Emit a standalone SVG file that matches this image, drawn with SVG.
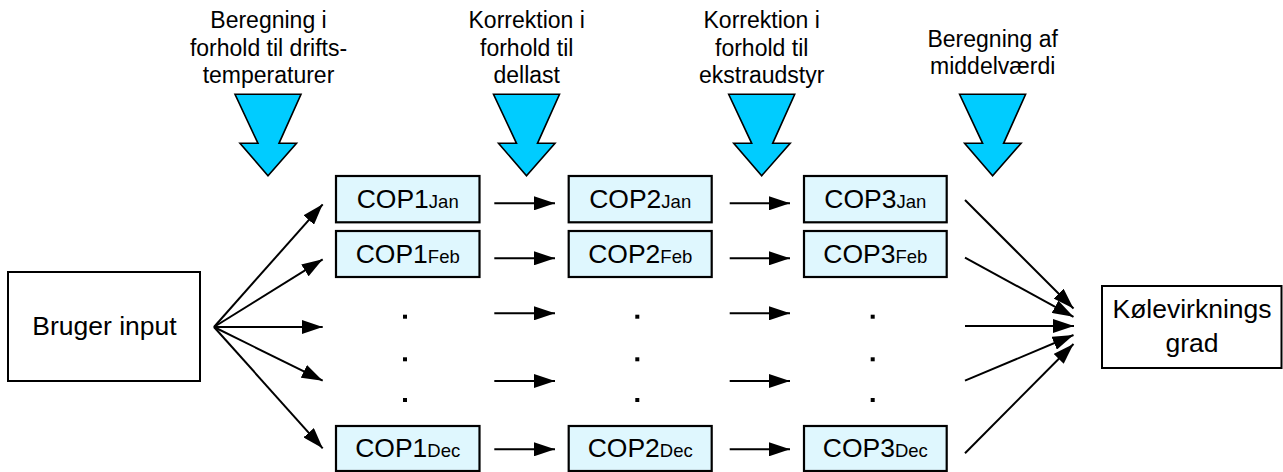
<svg xmlns="http://www.w3.org/2000/svg" width="1283" height="472" viewBox="0 0 1283 472">
<defs>
<style>
text{font-family:"Liberation Sans",Arial,sans-serif;fill:#000}
.lbl{font-size:23px;text-anchor:middle}
.main{font-size:26.5px;text-anchor:middle}
.sub{font-size:18.5px}
.box{fill:#fff;stroke:#000;stroke-width:2}
.cop{fill:#dff7fe;stroke:#000;stroke-width:2.2}
.blk{fill:#00ccff;stroke:#000;stroke-width:1.6;stroke-linejoin:miter}
.con line{stroke:#000;stroke-width:2;marker-end:url(#ah)}
.dot{fill:#000}
</style>
<marker id="ah" markerUnits="userSpaceOnUse" markerWidth="22" markerHeight="14" refX="21" refY="7" orient="auto" viewBox="0 0 22 14">
<path d="M0,0 L21,7 L0,14 z" fill="#000"/>
</marker>
<polygon id="bigarrow" class="blk" points="-33,94.3 33,94.3 11,143.3 28.5,143.3 0,175.7 -28,143.3 -10,143.3"/>
</defs>
<rect width="1283" height="472" fill="#fff"/>

<g id="label1">
<text class="lbl" x="268.5" y="28.3">Beregning i</text>
<text class="lbl" x="268.5" y="56">forhold til drifts-</text>
<text class="lbl" x="268.5" y="83.3">temperaturer</text>
<use href="#bigarrow" x="268"/>
</g>
<g id="label2">
<text class="lbl" x="526.7" y="28.3">Korrektion i</text>
<text class="lbl" x="526.7" y="56">forhold til</text>
<text class="lbl" x="526.7" y="83.3">dellast</text>
<use href="#bigarrow" x="526.5"/>
</g>
<g id="label3">
<text class="lbl" x="761.7" y="28.3">Korrektion i</text>
<text class="lbl" x="761.7" y="56">forhold til</text>
<text class="lbl" x="761.7" y="83.3">ekstraudstyr</text>
<use href="#bigarrow" x="761.7"/>
</g>
<g id="label4">
<text class="lbl" x="992.7" y="46.7">Beregning af</text>
<text class="lbl" x="992.7" y="74">middelværdi</text>
<use href="#bigarrow" x="992.6"/>
</g>

<g id="bruger">
<rect class="box" x="8" y="272" width="192" height="109"/>
<text class="main" x="104.5" y="335">Bruger input</text>
</g>
<g id="kolevirkning">
<rect class="box" x="1102" y="286" width="179.5" height="82"/>
<text class="main" x="1192" y="318.3">Kølevirknings</text>
<text class="main" x="1192" y="351.7">grad</text>
</g>

<g id="cop1jan"><rect class="cop" x="336" y="176" width="143.5" height="46.3"/><text class="main" x="407.7" y="208.3">COP1<tspan class="sub">Jan</tspan></text></g>
<g id="cop1feb"><rect class="cop" x="336" y="231" width="143.5" height="46"/><text class="main" x="407.7" y="263.3">COP1<tspan class="sub">Feb</tspan></text></g>
<g id="cop1dec"><rect class="cop" x="336" y="426" width="143.5" height="45"/><text class="main" x="407.7" y="457">COP1<tspan class="sub">Dec</tspan></text></g>

<g id="cop2jan"><rect class="cop" x="568.7" y="176" width="143" height="46.3"/><text class="main" x="640.2" y="208.3">COP2<tspan class="sub">Jan</tspan></text></g>
<g id="cop2feb"><rect class="cop" x="568.7" y="231" width="143" height="46"/><text class="main" x="640.2" y="263.3">COP2<tspan class="sub">Feb</tspan></text></g>
<g id="cop2dec"><rect class="cop" x="568.7" y="426" width="143" height="45"/><text class="main" x="640.2" y="457">COP2<tspan class="sub">Dec</tspan></text></g>

<g id="cop3jan"><rect class="cop" x="804" y="176" width="142.7" height="46.3"/><text class="main" x="875.3" y="208.3">COP3<tspan class="sub">Jan</tspan></text></g>
<g id="cop3feb"><rect class="cop" x="804" y="231" width="142.7" height="46"/><text class="main" x="875.3" y="263.3">COP3<tspan class="sub">Feb</tspan></text></g>
<g id="cop3dec"><rect class="cop" x="804" y="426" width="142.7" height="45"/><text class="main" x="875.3" y="457">COP3<tspan class="sub">Dec</tspan></text></g>

<g id="dots">
<rect class="dot" x="403" y="314.7" width="4" height="4"/>
<rect class="dot" x="403" y="357.3" width="4" height="4"/>
<rect class="dot" x="403" y="398" width="4" height="4"/>
<rect class="dot" x="635.3" y="314.7" width="4" height="4"/>
<rect class="dot" x="635.3" y="357.3" width="4" height="4"/>
<rect class="dot" x="635.3" y="398" width="4" height="4"/>
<rect class="dot" x="870.7" y="314.7" width="4" height="4"/>
<rect class="dot" x="870.7" y="357.3" width="4" height="4"/>
<rect class="dot" x="870.7" y="398" width="4" height="4"/>
</g>

<g id="connectors" class="con">
<line x1="214" y1="327" x2="322.7" y2="204.3"/>
<line x1="214" y1="327" x2="322.7" y2="259.3"/>
<line x1="214" y1="327" x2="322.7" y2="327"/>
<line x1="214" y1="327" x2="322.7" y2="380.7"/>
<line x1="214" y1="327" x2="322.7" y2="448.3"/>

<line x1="494.3" y1="203.3" x2="555" y2="203.3"/>
<line x1="494.3" y1="258.3" x2="555" y2="258.3"/>
<line x1="494.3" y1="313.3" x2="555" y2="313.3"/>
<line x1="494.3" y1="381" x2="555" y2="381"/>
<line x1="494.3" y1="449.3" x2="555" y2="449.3"/>

<line x1="729.7" y1="203.3" x2="790" y2="203.3"/>
<line x1="729.7" y1="258.3" x2="790" y2="258.3"/>
<line x1="729.7" y1="313.3" x2="790" y2="313.3"/>
<line x1="729.7" y1="381" x2="790" y2="381"/>
<line x1="729.7" y1="449.3" x2="790" y2="449.3"/>

<line x1="965" y1="200" x2="1073.5" y2="308.5"/>
<line x1="965" y1="257.7" x2="1073.5" y2="316.8"/>
<line x1="965" y1="326" x2="1074" y2="326"/>
<line x1="965" y1="380.7" x2="1073.5" y2="335"/>
<line x1="965" y1="453.3" x2="1073.5" y2="344"/>
</g>
</svg>
